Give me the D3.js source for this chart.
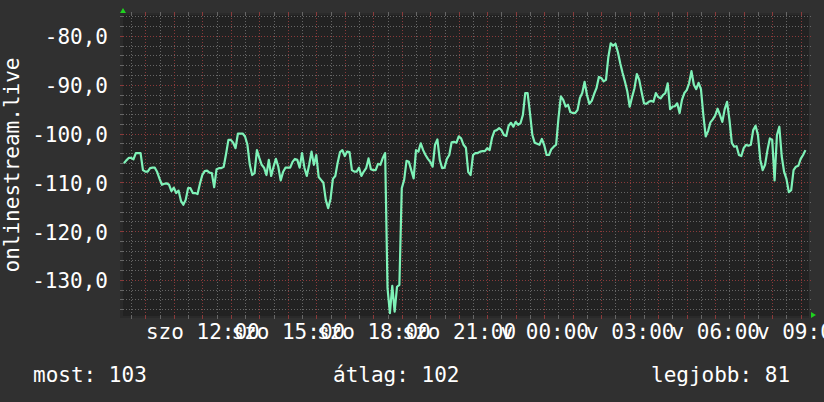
<!DOCTYPE html>
<html>
<head>
<meta charset="utf-8">
<script src="https://cdn.jsdelivr.net/npm/d3@7"></script>
<style>
html,body{margin:0;padding:0;background:#303030;}
svg{display:block;}
text{font-family:"DejaVu Sans Mono",monospace;}
</style>
</head>
<body>
<svg id="chart" width="824" height="402"></svg>
<script>
// ---- data ----
const seriesName = "onlinestream.live";
const startTime = new Date(2024, 0, 6, 9, 15);   // szombat 09:15
const stepMinutes = 5;
const values = [
-106.1,-105.5,-105.0,-105.0,-105.3,-104.0,-104.0,-104.0,-107.5,-107.8,
-107.8,-107.1,-107.0,-107.0,-107.9,-109.3,-110.5,-110.3,-110.2,-110.5,
-111.8,-111.1,-112.2,-111.7,-113.8,-114.6,-113.6,-111.2,-111.2,-112.2,
-112.2,-112.4,-110.3,-108.5,-107.7,-107.6,-108.0,-108.1,-111.0,-107.3,
-107.1,-107.1,-106.8,-104.2,-101.3,-101.3,-101.9,-103.0,-100.0,-100.0,
-100.0,-100.6,-102.3,-106.4,-108.5,-108.1,-103.4,-105.0,-106.4,-107.0,
-108.5,-105.4,-108.7,-106.8,-105.2,-106.8,-109.6,-107.9,-107.0,-107.0,
-107.0,-105.8,-105.2,-105.4,-107.0,-104.0,-107.0,-108.7,-106.4,-103.7,
-106.4,-104.4,-108.9,-109.5,-110.1,-113.6,-115.3,-113.4,-109.3,-108.7,
-106.0,-103.8,-103.4,-104.6,-103.7,-103.8,-107.5,-107.8,-107.8,-107.0,
-108.7,-107.8,-107.1,-105.1,-107.3,-107.5,-107.5,-106.2,-106.4,-105.0,
-104.0,-131.7,-136.8,-131.2,-136.5,-131.4,-131.0,-111.2,-109.5,-105.6,
-105.8,-107.5,-109.2,-103.4,-103.7,-102.0,-103.4,-104.4,-105.2,-105.8,
-106.8,-102.3,-101.2,-105.4,-107.1,-107.0,-105.2,-104.4,-101.8,-101.7,
-101.9,-100.6,-101.0,-102.3,-102.9,-107.9,-108.5,-104.4,-104.0,-104.0,
-103.7,-103.6,-103.6,-103.0,-103.4,-100.9,-99.5,-99.3,-98.9,-99.3,
-100.3,-100.5,-98.4,-97.8,-98.6,-97.6,-98.2,-97.9,-96.2,-91.7,
-91.7,-95.8,-100.3,-101.9,-102.1,-102.3,-101.1,-102.4,-104.4,-104.4,
-103.2,-102.7,-102.3,-96.8,-92.4,-93.1,-94.5,-94.1,-95.6,-95.8,
-95.8,-95.2,-92.7,-91.7,-89.4,-92.1,-93.9,-93.3,-91.9,-90.7,
-88.4,-88.6,-89.3,-89.0,-84.3,-81.5,-82.0,-81.6,-83.3,-85.6,
-87.6,-89.4,-91.4,-94.5,-92.5,-90.7,-87.8,-89.0,-91.5,-93.8,
-93.9,-93.5,-93.3,-93.5,-91.7,-92.5,-92.8,-92.1,-91.7,-89.7,
-95.0,-94.5,-94.4,-93.8,-95.8,-93.1,-91.7,-91.1,-89.7,-87.2,
-90.0,-90.9,-89.6,-90.9,-96.2,-100.6,-99.5,-97.7,-97.1,-96.3,
-94.9,-96.2,-97.6,-95.0,-93.5,-97.2,-101.9,-102.7,-102.6,-104.4,
-104.6,-103.0,-102.3,-102.5,-102.3,-99.3,-98.4,-100.3,-105.4,-107.5,
-106.4,-103.4,-101.0,-101.3,-109.6,-100.3,-98.6,-104.6,-107.8,-109.3,
-112.0,-111.6,-107.5,-106.8,-106.6,-105.2,-104.4,-103.4
];
const yTicks = [-80, -90, -100, -110, -120, -130];
const yTickLabels = ["-80,0", "-90,0", "-100,0", "-110,0", "-120,0", "-130,0"];
const xTickTimes = [
  new Date(2024,0,6,12,0), new Date(2024,0,6,15,0), new Date(2024,0,6,18,0), new Date(2024,0,6,21,0),
  new Date(2024,0,7,0,0), new Date(2024,0,7,3,0), new Date(2024,0,7,6,0), new Date(2024,0,7,9,0)
];
const xTickLabels = ["szo 12:00","szo 15:00","szo 18:00","szo 21:00","v 00:00","v 03:00","v 06:00","v 09:00"];
const legendLabels = ["most: 103", "átlag: 102", "legjobb: 81"];

// ---- layout ----
const svg = d3.select("#chart");
const X0 = 123, X1 = 809, Y0 = 15, Y1 = 316;
const FS = 21;

const x = d3.scaleTime()
  .domain([new Date(2024,0,6,9,13), new Date(2024,0,7,9,17,30)])
  .range([X0, X1]);
const y = d3.scaleLinear().domain([-137.4, -75.7]).range([Y1, Y0]);

svg.append("rect").attr("x",0).attr("y",0).attr("width",824).attr("height",402).attr("fill","#303030");
svg.append("rect").attr("x",X0-3).attr("y",Y0-2).attr("width",X1-X0+3).attr("height",Y1-Y0+4).attr("fill","#2a2a2a");
svg.append("rect").attr("x",X0).attr("y",Y0).attr("width",X1-X0).attr("height",Y1-Y0).attr("fill","#222222");

const grid = svg.append("g");
const gray = "#666666", red = "#8a3a3a";
// horizontal grid
for (let v = -136; v <= -76; v += 2) {
  const major = v % 10 === 0;
  const yy = Math.round(y(v)) + 0.5;
  grid.append("line").attr("x1",X0).attr("x2",X1+2).attr("y1",yy).attr("y2",yy)
    .attr("stroke", major ? red : gray).attr("stroke-width",1).attr("stroke-dasharray","1,2");
  grid.append("line").attr("x1",X0-3).attr("x2",X0).attr("y1",yy).attr("y2",yy)
    .attr("stroke", major ? red : gray).attr("stroke-width",1);
}
// vertical grid
const vt = d3.timeMinute.every(30).range(x.domain()[0], x.domain()[1]);
vt.forEach(t => {
  const major = t.getMinutes() === 0;
  const xx = Math.round(x(t)) + 0.5;
  const c = major ? red : gray;
  grid.append("line").attr("x1",xx).attr("x2",xx).attr("y1",Y0).attr("y2",Y1)
    .attr("stroke", c).attr("stroke-width",1).attr("stroke-dasharray","1,2");
  grid.append("line").attr("x1",xx).attr("x2",xx).attr("y1",Y0-3).attr("y2",Y0)
    .attr("stroke", c).attr("stroke-width",1);
  grid.append("line").attr("x1",xx).attr("x2",xx).attr("y1",Y1).attr("y2",Y1+3)
    .attr("stroke", c).attr("stroke-width",1);
});

// data line
const line = d3.line()
  .x((d,i) => x(new Date(startTime.getTime() + i*stepMinutes*60000)))
  .y(d => y(d));
svg.append("path").datum(values).attr("d", line)
  .attr("fill","none").attr("stroke","#7ff2b8").attr("stroke-width",2.2)
  .attr("stroke-linejoin","round");

// axes arrows
svg.append("path").attr("d", `M${X0-3},${Y0-2}L${X0+3},${Y0-2}L${X0},${Y0-7}Z`).attr("fill","#1fd21f");
svg.append("path").attr("d", `M${X1+2},${Y1-4}L${X1+2},${Y1+2}L${X1+7},${Y1-1}Z`).attr("fill","#1fd21f");

// y axis labels
const yAxis = d3.axisLeft(y).tickValues(yTicks).tickFormat((d,i)=>yTickLabels[i]).tickSize(0).tickPadding(15);
const gy = svg.append("g").attr("transform",`translate(${X0},0)`).call(yAxis);
gy.select(".domain").remove();
gy.selectAll("text").attr("fill","#ffffff").attr("font-size",FS).attr("font-family","DejaVu Sans Mono").attr("dy","0.38em");

// x axis labels
const xAxis = d3.axisBottom(x).tickValues(xTickTimes).tickFormat((d,i)=>xTickLabels[i]).tickSize(0).tickPadding(8);
const gx = svg.append("g").attr("transform",`translate(0,${Y1})`).call(xAxis);
gx.select(".domain").remove();
gx.selectAll("text").attr("fill","#ffffff").attr("font-size",FS).attr("font-family","DejaVu Sans Mono");

// y title
svg.append("text").attr("transform","translate(19,165) rotate(-90)")
  .attr("text-anchor","middle").attr("fill","#ffffff").attr("font-size",FS).text(seriesName);

// legend
const legendX = [33, 333, 651];
legendLabels.forEach((t,i) => {
  svg.append("text").attr("x",legendX[i]).attr("y",382).attr("fill","#ffffff")
    .attr("font-size",FS).text(t);
});
</script>
</body>
</html>
